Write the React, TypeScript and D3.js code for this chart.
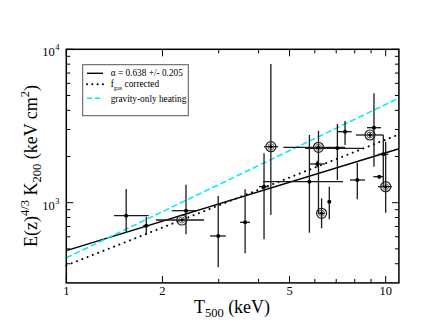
import React from "react";
import * as d3 from "d3";

// ---- data ----
const T_VALUES = [1.54, 1.78, 2.30, 2.37, 2.99, 3.63, 4.16, 4.37, 5.77, 6.16, 7.06, 6.11, 6.30, 6.66, 7.46, 8.15, 8.93, 9.19, 9.55, 9.83, 10.0];
const T_LOW = [1.41, 1.74, 1.91, 2.14, 2.82, 3.50, 4.01, 4.16, 4.13, 4.78, 5.59, 5.79, 6.15, 6.60, 7.06, 7.73, 8.07, 8.74, 9.15, 9.46, 9.46];
const T_HIGH = [1.81, 1.82, 2.70, 2.56, 3.16, 3.76, 4.31, 4.60, 7.35, 7.46, 8.51, 6.46, 6.45, 6.72, 7.83, 8.62, 9.83, 9.67, 9.83, 10.19, 10.46];
const K_VALUES = [823, 708, 771, 887, 607, 745, 1272, 2318, 1371, 2297, 2262, 1788, 853, 1015, 2903, 1406, 2763, 3083, 1477, 2068, 1272];
const K_LOW = [637, 616, 755, 622, 379, 468, 577, 831, 637, 841, 1406, 1700, 681, 780, 2378, 1052, 2650, 1717, 1440, 1272, 861];
const K_HIGH = [1228, 810, 790, 1310, 1106, 1223, 2099, 8022, 2763, 2948, 3258, 1880, 1068, 1272, 3409, 1823, 2880, 5167, 1515, 2763, 2499];
const CIRCLED = [false, false, true, false, false, false, false, true, false, true, false, false, true, false, false, false, true, false, false, false, true];

// power-law relations K = norm * T^slope
const FIT_NAMES = ["fit", "fgas", "gravity"];
const FIT_NORM = [487, 390, 437];
const FIT_SLOPE = [0.638, 0.82, 1.0];
const LEGEND_LABELS = ["α = 0.638 +/- 0.205", "f_gas corrected", "gravity-only heating"];

const X_DOMAIN = [1, 11];
const Y_DOMAIN = [300, 10000];
const X_MAJOR = [1, 2, 5, 10];
const X_MINOR = [3, 4, 6, 7, 8, 9];
const Y_MAJOR = [1000, 10000];
const Y_MINOR = [400, 500, 600, 700, 800, 900, 2000, 3000, 4000, 5000, 6000, 7000, 8000, 9000];

const FONT = "'Liberation Serif', 'Times New Roman', serif";

export default function App() {
  const W = 430, H = 332;
  const left = 66.3, right = 398.9, top = 49.3, bottom = 282.9;
  const x = d3.scaleLog().domain(X_DOMAIN).range([left, right]);
  const y = d3.scaleLog().domain(Y_DOMAIN).range([bottom, top]);

  const fitPath = (i: number) => {
    const pts: [number, number][] = X_DOMAIN.map((t) => [x(t), y(FIT_NORM[i] * Math.pow(t, FIT_SLOPE[i]))]);
    return d3.line()(pts) || "";
  };

  const fitStyles = [
    { stroke: "#000", strokeWidth: 1.4, dash: undefined as string | undefined, cap: "butt" },
    { stroke: "#000", strokeWidth: 2, dash: "0.1,5.6", cap: "round" },
    { stroke: "#00eaf0", strokeWidth: 1.5, dash: "6,3", cap: "butt" },
  ];

  const majorLen = 7, minorLen = 4;
  const ticks: JSX.Element[] = [];
  X_MAJOR.concat(X_MINOR).forEach((v, i) => {
    const len = X_MAJOR.includes(v) ? majorLen : minorLen;
    const px = x(v);
    ticks.push(<line key={"xb" + i} x1={px} x2={px} y1={bottom} y2={bottom - len} stroke="#000" strokeWidth={1} />);
    ticks.push(<line key={"xt" + i} x1={px} x2={px} y1={top} y2={top + len} stroke="#000" strokeWidth={1} />);
  });
  Y_MAJOR.concat(Y_MINOR).forEach((v, i) => {
    const len = Y_MAJOR.includes(v) ? majorLen : minorLen;
    const py = y(v);
    ticks.push(<line key={"yl" + i} x1={left} x2={left + len} y1={py} y2={py} stroke="#000" strokeWidth={1} />);
    ticks.push(<line key={"yr" + i} x1={right} x2={right - len} y1={py} y2={py} stroke="#000" strokeWidth={1} />);
  });

  const lgX = 82.7, lgY = 64.7, lgW = 105.6, lgH = 51;
  const rowY = [73.3, 84.3, 98.3];

  return (
    <svg width={W} height={H} style={{ position: "absolute", left: 0, top: 0, background: "#fff" }} fontFamily={FONT}>
      <rect x={0} y={0} width={W} height={H} fill="#fff" />
      {/* fit lines */}
      <g>
        {FIT_NAMES.map((n, i) => (
          <path key={n} d={fitPath(i)} fill="none" stroke={fitStyles[i].stroke} strokeWidth={fitStyles[i].strokeWidth}
            strokeDasharray={fitStyles[i].dash} strokeLinecap={fitStyles[i].cap as any} />
        ))}
      </g>
      {/* error bars */}
      <g stroke="#1a1a1a" strokeWidth={1.3}>
        {T_VALUES.map((t, i) => (
          <g key={"e" + i}>
            <line x1={x(T_LOW[i])} x2={x(T_HIGH[i])} y1={y(K_VALUES[i])} y2={y(K_VALUES[i])} />
            <line x1={x(t)} x2={x(t)} y1={y(K_LOW[i])} y2={y(K_HIGH[i])} />
          </g>
        ))}
      </g>
      {/* markers */}
      <g>
        {T_VALUES.map((t, i) => (
          <g key={"m" + i}>
            {CIRCLED[i] && <circle cx={x(t)} cy={y(K_VALUES[i])} r={5} fill="none" stroke="#222" strokeWidth={1.2} />}
            {CIRCLED[i] && <circle cx={x(t)} cy={y(K_VALUES[i])} r={3} fill="none" stroke="#444" strokeWidth={0.8} />}
            <circle cx={x(t)} cy={y(K_VALUES[i])} r={CIRCLED[i] ? 1.6 : 2} fill="#000" />
          </g>
        ))}
      </g>
      {/* frame and ticks */}
      <rect x={left} y={top} width={right - left} height={bottom - top} fill="none" stroke="#000" strokeWidth={1.5} />
      {ticks}
      {/* x tick labels */}
      {X_MAJOR.map((v) => (
        <text key={"xl" + v} x={x(v)} y={295} textAnchor="middle" fontSize={12.5} fill="#000">{v}</text>
      ))}
      {/* y tick labels */}
      {Y_MAJOR.map((v) => (
        <text key={"yl" + v} x={59.5} y={y(v) + 7} textAnchor="end" fontSize={12.5} fill="#000">
          10
          <tspan fontSize={8.5} dy={-6} dx={0.5}>{Math.round(Math.log10(v))}</tspan>
        </text>
      ))}
      {/* x title */}
      <text x={232} y={312.7} textAnchor="middle" fontSize={18} fill="#000">
        T<tspan fontSize={12.5} dy={4}>500</tspan><tspan dy={-4}> (keV)</tspan>
      </text>
      {/* y title */}
      <text transform={`translate(37,166) rotate(-90)`} textAnchor="middle" fontSize={18} fill="#000">
        E(z)<tspan fontSize={12.5} dy={-8}>4/3</tspan><tspan dy={8}> K</tspan><tspan fontSize={12.5} dy={4}>200</tspan>
        <tspan dy={-4}> (keV cm</tspan><tspan fontSize={12.5} dy={-8}>2</tspan><tspan dy={8}>)</tspan>
      </text>
      {/* legend */}
      <rect x={lgX} y={lgY} width={lgW} height={lgH} fill="#fff" stroke="#555" strokeWidth={1} />
      {FIT_NAMES.map((n, i) => (
        <line key={"ll" + n} x1={87} x2={103} y1={rowY[i]} y2={rowY[i]} stroke={fitStyles[i].stroke}
          strokeWidth={fitStyles[i].strokeWidth} strokeDasharray={i === 1 ? "0.1,5.2" : i === 2 ? "5,3" : undefined}
          strokeLinecap={fitStyles[i].cap as any} />
      ))}
      <text x={110.7} y={rowY[0] + 2.6} fontSize={9.3} fill="#000">{LEGEND_LABELS[0]}</text>
      <text x={110.7} y={rowY[1] + 2.2} fontSize={9.3} fill="#000">
        f<tspan fontSize={6.3} dy={3.2}>gas</tspan><tspan dy={-3.2}> corrected</tspan>
      </text>
      <text x={110.7} y={rowY[2] + 3.2} fontSize={9.3} fill="#000">{LEGEND_LABELS[2]}</text>
    </svg>
  );
}
